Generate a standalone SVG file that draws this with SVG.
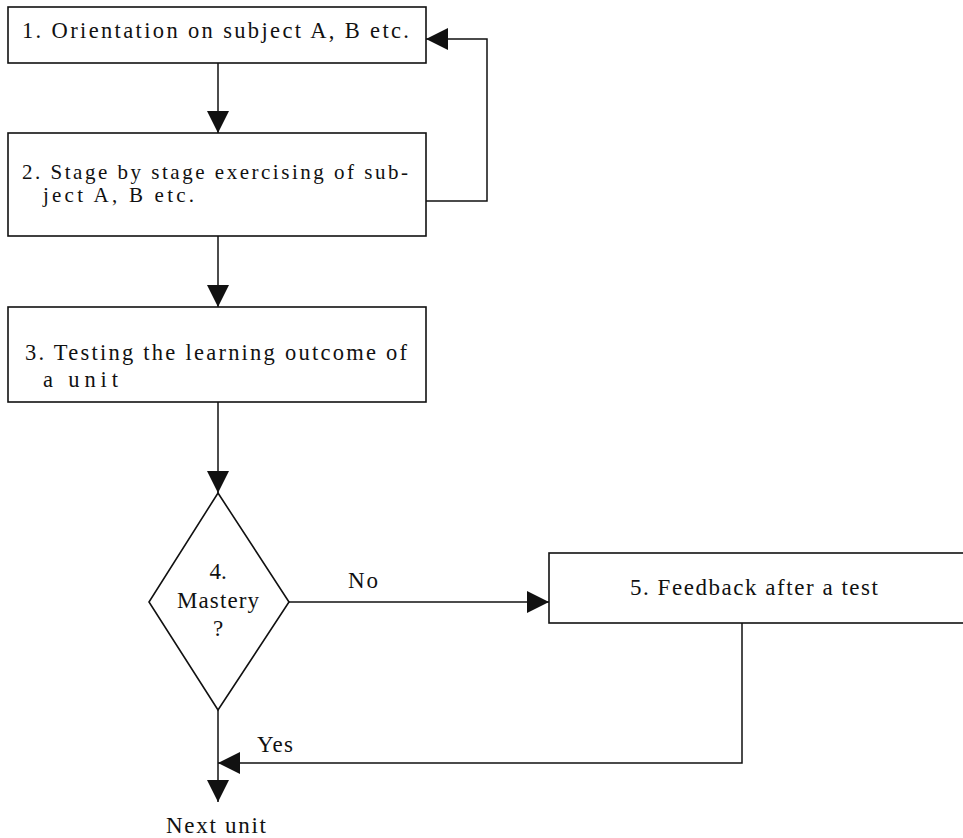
<svg xmlns="http://www.w3.org/2000/svg" width="963" height="838" viewBox="0 0 963 838">
  <style>
    .box { fill: #fff; stroke: #111; stroke-width: 1.6; }
    .wire { fill: none; stroke: #111; stroke-width: 1.5; }
    .t { font-family: 'Liberation Serif', 'DejaVu Serif', serif; font-size: 22.5px; fill: #111; }
    .sm { font-size: 21px; }
    .lg { font-size: 23px; }
    .c { text-anchor: middle; }
  </style>
  <defs>
    <marker id="arrow" markerUnits="userSpaceOnUse" markerWidth="22" markerHeight="22" viewBox="0 0 22 22" refX="22" refY="11" orient="auto">
      <path d="M0,0 L22,11 L0,22 Z" fill="#111"/>
    </marker>
  </defs>
  <rect width="963" height="838" fill="#fff"/>

  <g id="connectors">
    <line class="wire" x1="218" y1="63" x2="218" y2="133" marker-end="url(#arrow)"/>
    <polyline class="wire" points="426,201 487,201 487,39 426,39" marker-end="url(#arrow)"/>
    <line class="wire" x1="218" y1="236" x2="218" y2="307" marker-end="url(#arrow)"/>
    <line class="wire" x1="218" y1="402" x2="218" y2="493" marker-end="url(#arrow)"/>
    <line class="wire" x1="289" y1="602" x2="549" y2="602" marker-end="url(#arrow)"/>
    <polyline class="wire" points="742,623 742,763 218,763" marker-end="url(#arrow)"/>
    <line class="wire" x1="218" y1="710" x2="218" y2="802" marker-end="url(#arrow)"/>
    <text class="t lg" x="348" y="588" textLength="30" lengthAdjust="spacing">No</text>
    <text class="t lg" x="257" y="752" textLength="36" lengthAdjust="spacing">Yes</text>
    <text class="t lg" x="166" y="833" textLength="100" lengthAdjust="spacing">Next unit</text>
  </g>

  <g id="node1">
    <rect class="box" x="8" y="7" width="418" height="56"/>
    <text class="t" x="22" y="38" textLength="387" lengthAdjust="spacing">1. Orientation on subject A, B etc.</text>
  </g>

  <g id="node2">
    <rect class="box" x="8" y="133" width="418" height="103"/>
    <text class="t sm" x="22" y="179" textLength="386" lengthAdjust="spacing">2. Stage by stage exercising of sub-</text>
    <text class="t sm" x="43" y="202" textLength="151" lengthAdjust="spacing">ject A, B etc.</text>
  </g>

  <g id="node3">
    <rect class="box" x="8" y="307" width="418" height="95"/>
    <text class="t" x="25" y="360" textLength="382" lengthAdjust="spacing">3. Testing the learning outcome of</text>
    <text class="t" x="43" y="387" textLength="75" lengthAdjust="spacing">a unit</text>
  </g>

  <g id="node4">
    <polygon class="box" points="218,493 289,602 218,710 149,602"/>
    <text class="t lg c" x="218" y="579">4.</text>
    <text class="t lg" x="177" y="608" textLength="82" lengthAdjust="spacing">Mastery</text>
    <text class="t lg c" x="218" y="636">?</text>
  </g>

  <g id="node5">
    <rect class="box" x="549" y="553" width="420" height="70"/>
    <text class="t lg" x="630" y="595" textLength="248" lengthAdjust="spacing">5. Feedback after a test</text>
  </g>
</svg>
